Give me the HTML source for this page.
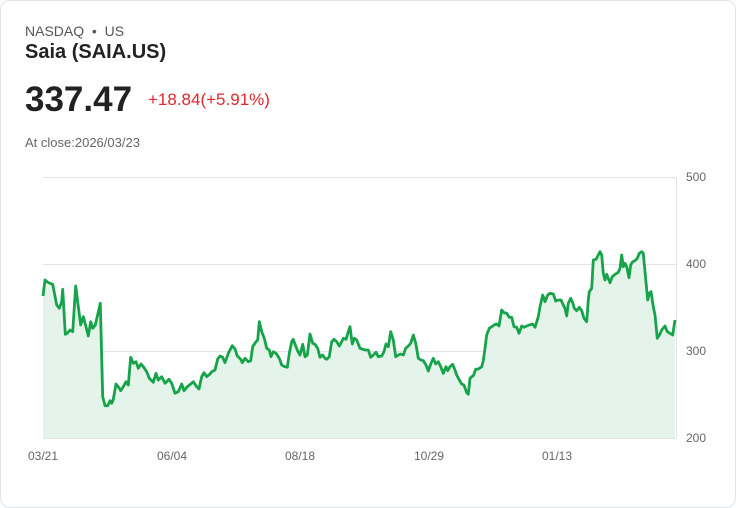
<!DOCTYPE html>
<html><head><meta charset="utf-8"><style>
body{margin:0;width:736px;height:508px;background:#fff;font-family:"Liberation Sans",Arial,sans-serif;overflow:hidden}
.card{position:absolute;left:0;top:0;width:734px;height:506px;border:1px solid #dfe3ea;border-radius:10px;box-sizing:content-box}
.t{position:absolute;white-space:nowrap}
</style></head><body>
<div class="card"></div>
<div class="t" style="left:25px;top:23px;font-size:14px;color:#555">NASDAQ &nbsp;•&nbsp; US</div>
<div class="t" style="left:25px;top:41px;font-size:20px;font-weight:bold;color:#222">Saia (SAIA.US)</div>
<div class="t" style="left:25px;top:80px;font-size:35px;font-weight:bold;color:#222">337.47</div>
<div class="t" style="left:148px;top:90px;font-size:17px;color:#e0282e">+18.84(+5.91%)</div>
<div class="t" style="left:25px;top:135px;font-size:13px;color:#666">At close:2026/03/23</div>
<svg width="736" height="508" style="position:absolute;left:0;top:0">
<g stroke="#e4e4e4" stroke-width="1">
<line x1="43" y1="177.5" x2="676" y2="177.5"/><line x1="43" y1="264.5" x2="676" y2="264.5"/>
<line x1="43" y1="351.5" x2="676" y2="351.5"/><line x1="43" y1="438.5" x2="676" y2="438.5"/>
<line x1="676.5" y1="177" x2="676.5" y2="438"/></g>
<path id="fill" fill="#e5f4ea" stroke="none"/>
<path id="ln" fill="none" stroke="#16a34a" stroke-width="2.8" stroke-linejoin="round"/>
<g font-size="12" fill="#666" font-family="Liberation Sans,Arial,sans-serif">
<text x="686" y="181">500</text><text x="686" y="268">400</text><text x="686" y="355">300</text><text x="686" y="442">200</text>
<text x="28" y="460">03/21</text><text x="157" y="460">06/04</text><text x="285" y="460">08/18</text><text x="414" y="460">10/29</text><text x="542" y="460">01/13</text>
</g></svg>
<script>
var a=[38,168,45,120,55,128,68,133,80,195,88,205,95,185,98,148,106,283,112,280,120,270,128,275,137,138,145,200,152,255,160,230,168,260,175,288,182,245,188,265,196,255,211,190,218,470,225,497,233,497,240,482,245,490,250,478,258,432,265,440,272,452,280,440,288,425,295,435,302,352,310,370,318,365,325,385,333,372,340,380,350,395,358,415,370,427,378,400,385,420,395,410,405,430,417,418,425,430,435,460,445,455,455,432,462,452,472,440,482,432,490,425,500,440,507,447,515,410,522,398,530,410,540,402,545,395,555,390,563,357,570,348,578,352,585,368,595,340,607,317,615,327,622,348,632,358,637,368,645,355,655,365,662,362,668,320,678,305,683,300,688,245,695,275,703,295,710,325,718,330,723,350,730,335,738,340,748,355,755,375,765,380,772,382,778,340,785,305,790,298,795,313,803,333,810,345,818,313,825,350,832,345,840,282,848,310,855,313,863,325,870,352,878,345,885,355,890,358,898,350,905,305,912,298,920,305,928,318,935,305,940,295,948,298,955,275,960,260,967,312,973,295,980,300,990,325];
var b=[45,330,55,330,62,352,70,345,78,337,85,350,95,348,102,335,108,312,115,320,122,275,130,300,137,350,145,345,152,342,160,345,167,325,175,318,182,310,190,285,197,310,205,355,213,360,220,362,228,375,235,393,243,370,250,355,257,372,265,365,272,380,280,400,288,380,293,392,300,380,308,373,315,390,320,405,328,420,335,432,342,435,350,458,355,463,360,415,365,410,370,407,377,388,385,387,395,380,400,362,405,325,410,285,418,265,425,260,432,255,440,252,447,258,455,210,462,218,470,220,478,232,485,232,492,260,500,262,507,280,515,258,522,262,530,258,538,255,548,252,555,262,565,230,570,200,578,165,585,185,593,165,600,160,610,162,617,183,625,180,633,180,640,195,645,205,650,228,655,190,662,175,668,188,673,205,680,212,688,202,695,212,702,235,710,245,715,180,718,155,725,145,730,60,738,58,745,45,750,35,755,45,760,100,765,120,770,103,775,115,780,128,787,110,795,103,805,97,810,85,815,45,820,80,825,70,830,80,837,113,842,75,848,65,855,62,862,55,868,40,875,35,880,40,885,95,893,180,898,160,903,155,910,200,915,225,922,295,930,282,935,270,945,258,952,275,960,280,968,285,975,240];
var p=[];for(var i=0;i<a.length;i+=2)p.push([30+a[i]/3,240+a[i+1]/3]);
for(var i=0;i<b.length;i+=2)p.push([350+b[i]/3,240+b[i+1]/3]);
p[0][0]=43;var d=p.map(function(q,i){return(i?'L':'M')+q[0].toFixed(1)+' '+q[1].toFixed(1)}).join(' ');
document.getElementById('ln').setAttribute('d',d);
document.getElementById('fill').setAttribute('d',d+' L'+p[p.length-1][0].toFixed(1)+' 438 L43 438 Z');
</script>
</body></html>
